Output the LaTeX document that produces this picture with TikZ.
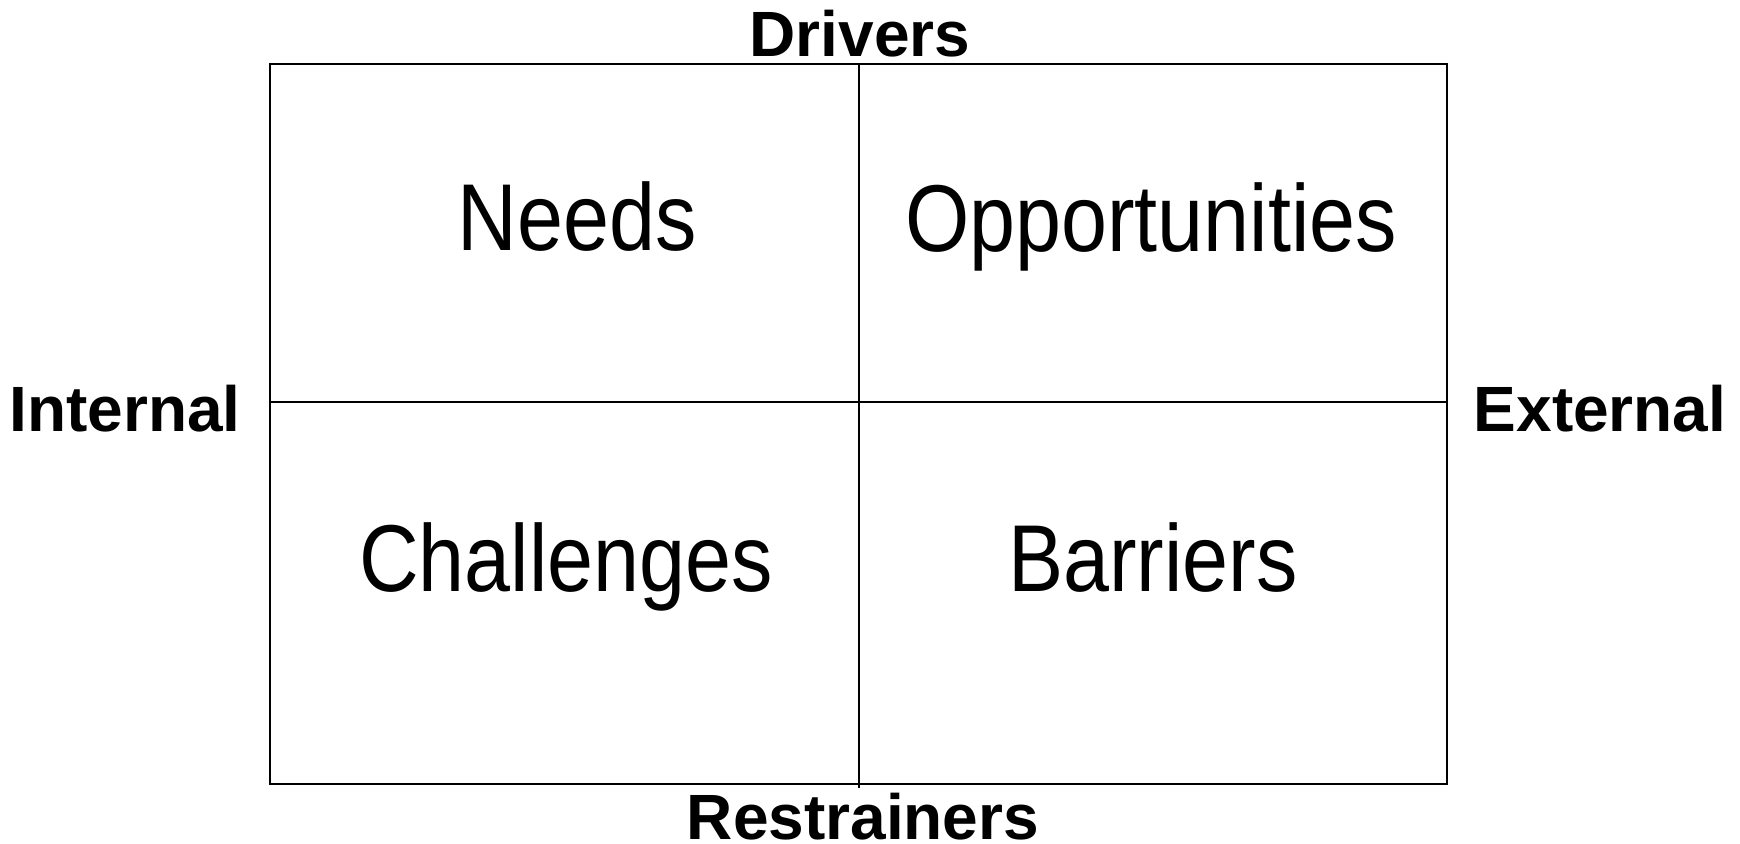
\documentclass[tikz,border=0pt]{standalone}
\usepackage{fontspec}
\setmainfont{Liberation Sans}
\newfontfamily\narrowfont[FakeStretch=0.87]{Liberation Sans}
\tikzset{
  axislabel/.style={anchor=base,inner sep=0pt,font=\fontsize{32}{36}\selectfont\bfseries},
  quadlabel/.style={anchor=base,inner sep=0pt,font=\narrowfont\fontsize{47.5}{52}\selectfont}
}
\begin{document}
\begin{tikzpicture}[x=0.5pt,y=-0.5pt]
          \useasboundingbox (0,0) rectangle (1740,844);
          \coordinate (tl) at (270,64);
          \coordinate (br) at (1447,784);
          \draw[line width=1pt] (tl) rectangle (br);
          \draw[line width=1pt] (859,64) -- (859,788);
          \draw[line width=1pt] (270,402) -- (1447,402);
          \node[quadlabel] (needs) at (577,251) {Needs};
          \node[quadlabel] (opportunities) at (1151,252) {Opportunities};
          \node[quadlabel] (challenges) at (566,591) {Challenges};
          \node[quadlabel] (barriers) at (1153,591) {Barriers};
          \node[axislabel] (drivers) at (860,57) {Drivers};
          \node[axislabel] (restrainers) at (863,839) {Restrainers};
          \node[axislabel] (internal) at (125,432) {Internal};
          \node[axislabel] (external) at (1600,432) {External};
        \end{tikzpicture}
\end{document}
